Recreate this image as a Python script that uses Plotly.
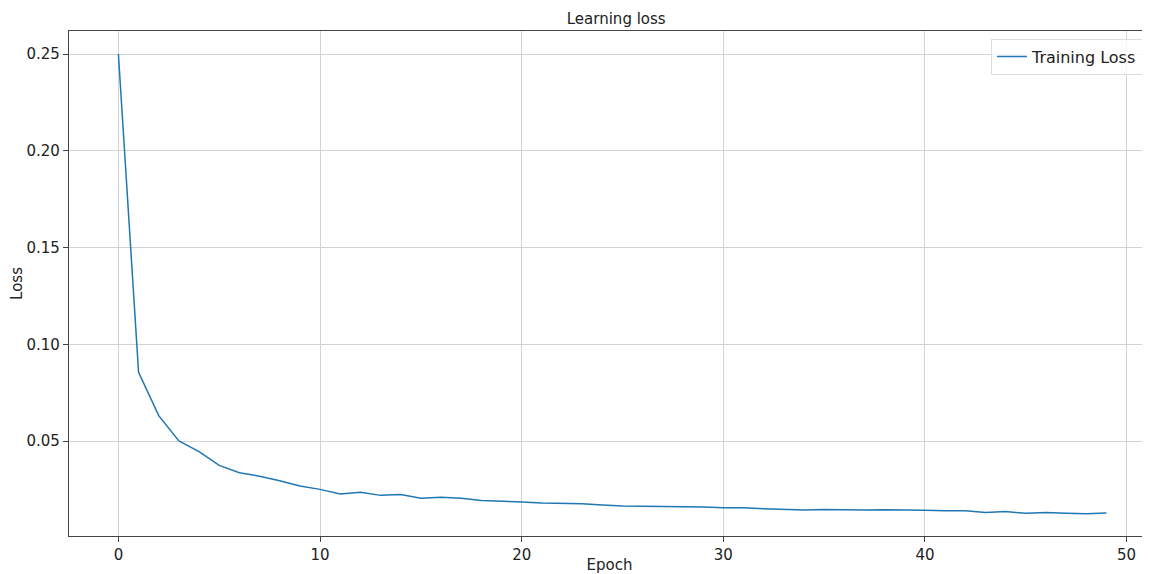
import plotly.graph_objects as go

epochs = list(range(50))
training_loss = [
    0.2500, 0.0855, 0.0631, 0.0500, 0.0445, 0.0374, 0.0336, 0.0318, 0.0295, 0.0267,
    0.0250, 0.0226, 0.0235, 0.0219, 0.0224, 0.0204, 0.0209, 0.0204, 0.0192, 0.0190,
    0.0185, 0.0180, 0.0178, 0.0176, 0.0169, 0.0164, 0.0163, 0.0162, 0.0161, 0.0159,
    0.0155, 0.0155, 0.0150, 0.0148, 0.0143, 0.0146, 0.0144, 0.0143, 0.0145, 0.0145,
    0.0142, 0.0140, 0.0140, 0.0131, 0.0135, 0.0126, 0.0131, 0.0127, 0.0124, 0.0128,
]
x_ticks = [0, 10, 20, 30, 40, 50]
y_ticks = [0.05, 0.10, 0.15, 0.20, 0.25]
y_tick_labels = ["0.05", "0.10", "0.15", "0.20", "0.25"]

FONT = "DejaVu Sans"

fig = go.Figure()
fig.add_trace(go.Scatter(
    x=epochs, y=training_loss, mode="lines", name="Training Loss",
    line=dict(color="#1f77b4", width=1.5),
))

# page body has an 8px margin, so the figure is 8px smaller and shifted
fig.update_layout(
    template="none",
    width=1142, height=566,
    margin=dict(l=61, r=0, t=23, b=38, autoexpand=False),
    paper_bgcolor="white", plot_bgcolor="white",
    font=dict(family=FONT, color="#222222", size=15),
    title=dict(text="Learning loss", x=0.5326, xanchor="center", y=0.981, yanchor="middle",
               font=dict(family=FONT, size=15, color="#222222")),
    showlegend=True,
    legend=dict(x=0.9935, xanchor="right", y=0.985, yanchor="top",
                bgcolor="rgba(255,255,255,0.8)", bordercolor="#dddddd", borderwidth=1,
                font=dict(family=FONT, size=16, color="#222222")),
)
fig.update_xaxes(
    automargin=False,
    range=[-2.45, 51.16], tickvals=x_ticks, ticktext=[str(t) for t in x_ticks],
    showgrid=True, gridcolor="#d3d3d3", gridwidth=1, zeroline=False,
    showline=True, linecolor="#444444", linewidth=1.2, mirror=True,
    ticks="outside", ticklen=5, tickcolor="#444444",
    tickfont=dict(family=FONT, size=15, color="#222222"),
    title=dict(text="Epoch", standoff=7, font=dict(family=FONT, size=15, color="#222222")),
)
fig.update_yaxes(
    automargin=False,
    range=[0.0009, 0.2619], tickvals=y_ticks, ticktext=y_tick_labels,
    showgrid=True, gridcolor="#d3d3d3", gridwidth=1, zeroline=False,
    showline=True, linecolor="#444444", linewidth=1.2, mirror=False,
    ticks="outside", ticklen=5, tickcolor="#444444",
    tickfont=dict(family=FONT, size=15, color="#222222"),
    title=dict(text="Loss", standoff=8, font=dict(family=FONT, size=15, color="#222222")),
)

fig.write_html("out.html")
